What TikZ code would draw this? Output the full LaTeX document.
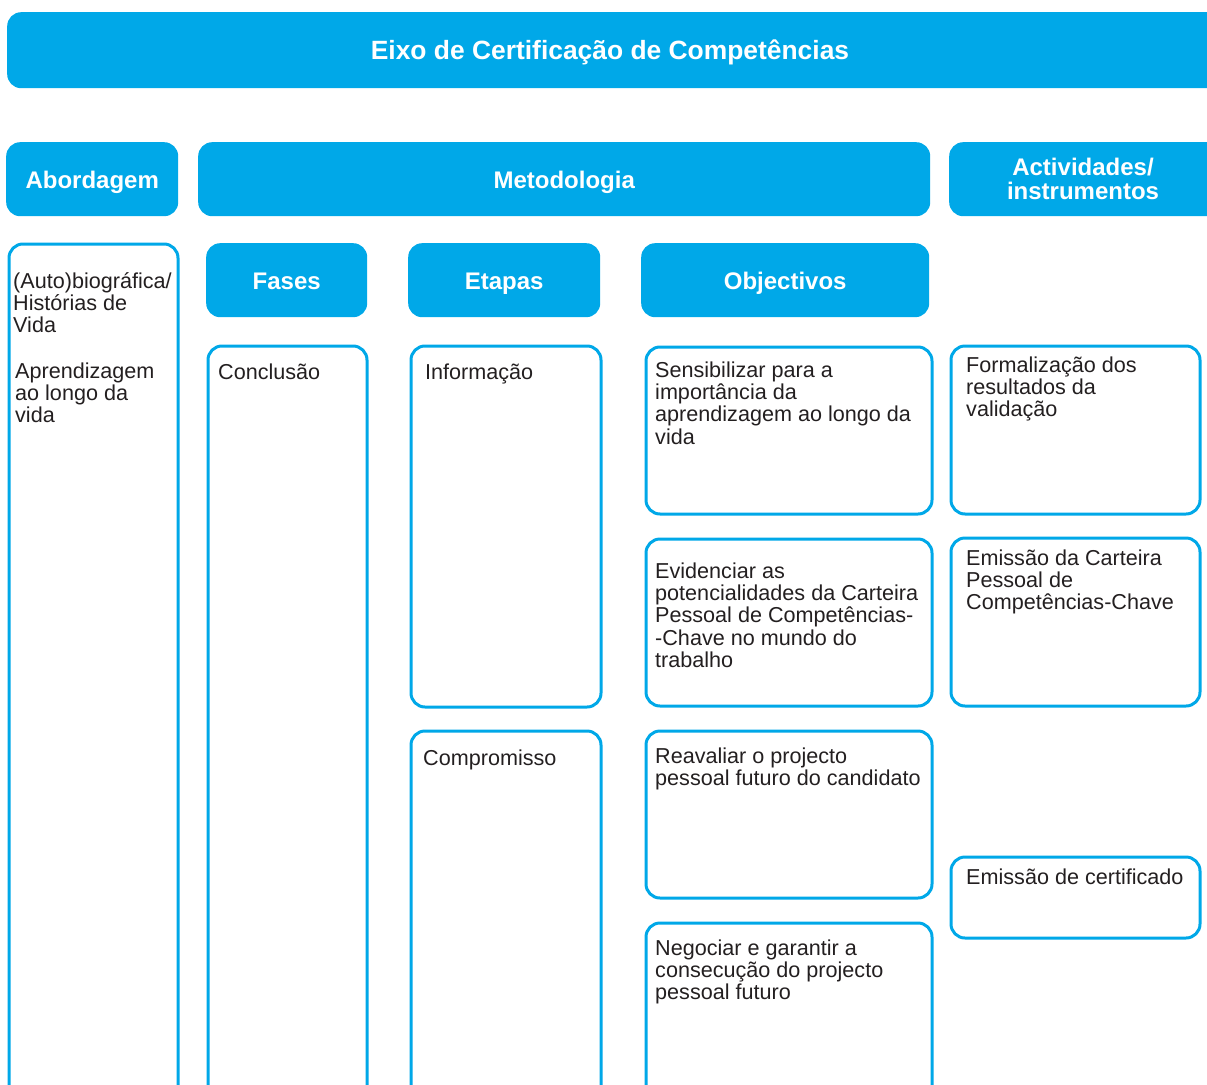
\documentclass[tikz,border=0pt]{standalone}
\usepackage{fontspec}
\setmainfont{Liberation Sans}
\definecolor{cy}{RGB}{0,168,232}
\definecolor{tx}{RGB}{35,31,32}
\newcommand\mlines[1]{\begin{tabular}[t]{@{}l@{}}#1\end{tabular}}
\tikzset{
  hdr/.style={fill=cy, draw=none, rounded corners=14pt, text=white, font=\bfseries\fontsize{24}{24}\selectfont, inner sep=0pt, anchor=north west, text height=18pt, text depth=0pt},
  obox/.style={draw=cy, line width=3pt, rounded corners=14pt, inner sep=0pt, anchor=north west},
  txt/.style={anchor=base west, inner sep=0pt, text=tx, font=\fontsize{21.6}{22.2}\selectfont},
  htxt/.style={anchor=base, inner sep=0pt, text=white, font=\bfseries\fontsize{24}{23.5}\selectfont}
}
\begin{document}
\begin{tikzpicture}[x=1pt,y=-1pt]
\useasboundingbox (0,0) rectangle (1207,1084);
\clip (0,0) rectangle (1207,1084);
% headers
\node[hdr, minimum width=1218pt, minimum height=76pt] (title) at (7,12) {};
\node[htxt, font=\bfseries\fontsize{26.4}{26}\selectfont] (titletxt) at (610,59) {Eixo de Certificação de Competências};
\node[hdr, minimum width=172pt, minimum height=74pt] (abh) at (6,142) {Abordagem};
\node[hdr, minimum width=732pt, minimum height=74pt] (meh) at (198,142) {Metodologia};
\node[hdr, minimum width=276pt, minimum height=74pt] (ach) at (949,142) {};
\node[htxt] (achtxt) at (1083,175) {\begin{tabular}[t]{@{}c@{}}Actividades/\\instrumentos\end{tabular}};
\node[hdr, minimum width=161pt, minimum height=74pt] (fah) at (206,243) {Fases};
\node[hdr, minimum width=192pt, minimum height=74pt] (eth) at (408,243) {Etapas};
\node[hdr, minimum width=288pt, minimum height=74pt] (obh) at (641,243) {Objectivos};
% outline boxes
\node[obox, minimum width=169pt, minimum height=860pt] (abb) at (7.5,242.5) {};
\node[obox, minimum width=159pt, minimum height=760pt] (cob) at (206.5,344.5) {};
\node[obox, minimum width=190pt, minimum height=361pt] (inb) at (409.5,344.5) {};
\node[obox, minimum width=190pt, minimum height=380pt] (cpb) at (409.5,729.5) {};
\node[obox, minimum width=286pt, minimum height=167pt] (o1) at (644.5,345.5) {};
\node[obox, minimum width=286pt, minimum height=167pt] (o2) at (644.5,537.5) {};
\node[obox, minimum width=286pt, minimum height=167pt] (o3) at (644.5,729.5) {};
\node[obox, minimum width=286pt, minimum height=180pt] (o4) at (644.5,921.5) {};
\node[obox, minimum width=249pt, minimum height=168pt] (a1) at (949.5,344.5) {};
\node[obox, minimum width=249pt, minimum height=168pt] (a2) at (949.5,536.5) {};
\node[obox, minimum width=249pt, minimum height=81pt] (a3) at (949.5,855.5) {};
% texts
\node[txt] (abt1) at (13,288) {\mlines{(Auto)biográfica/\\Histórias de\\Vida}};
\node[txt] (abt2) at (15,378) {\mlines{Aprendizagem\\ao longo da\\vida}};
\node[txt] (cot) at (218,379) {Conclusão};
\node[txt] (int) at (425,379) {Informação};
\node[txt] (cpt) at (423,765) {Compromisso};
\node[txt] (o1t) at (655,377) {\mlines{Sensibilizar para a\\importância da\\aprendizagem ao longo da\\vida}};
\node[txt] (o2t) at (655,578) {\mlines{Evidenciar as\\potencialidades da Carteira\\Pessoal de Competências-\\-Chave no mundo do\\trabalho}};
\node[txt] (o3t) at (655,763) {\mlines{Reavaliar o projecto\\pessoal futuro do candidato}};
\node[txt] (o4t) at (655,955) {\mlines{Negociar e garantir a\\consecução do projecto\\pessoal futuro}};
\node[txt] (a1t) at (966,372) {\mlines{Formalização dos\\resultados da\\validação}};
\node[txt] (a2t) at (966,565) {\mlines{Emissão da Carteira\\Pessoal de\\Competências-Chave}};
\node[txt] (a3t) at (966,884) {Emissão de certificado};
\end{tikzpicture}
\end{document}
